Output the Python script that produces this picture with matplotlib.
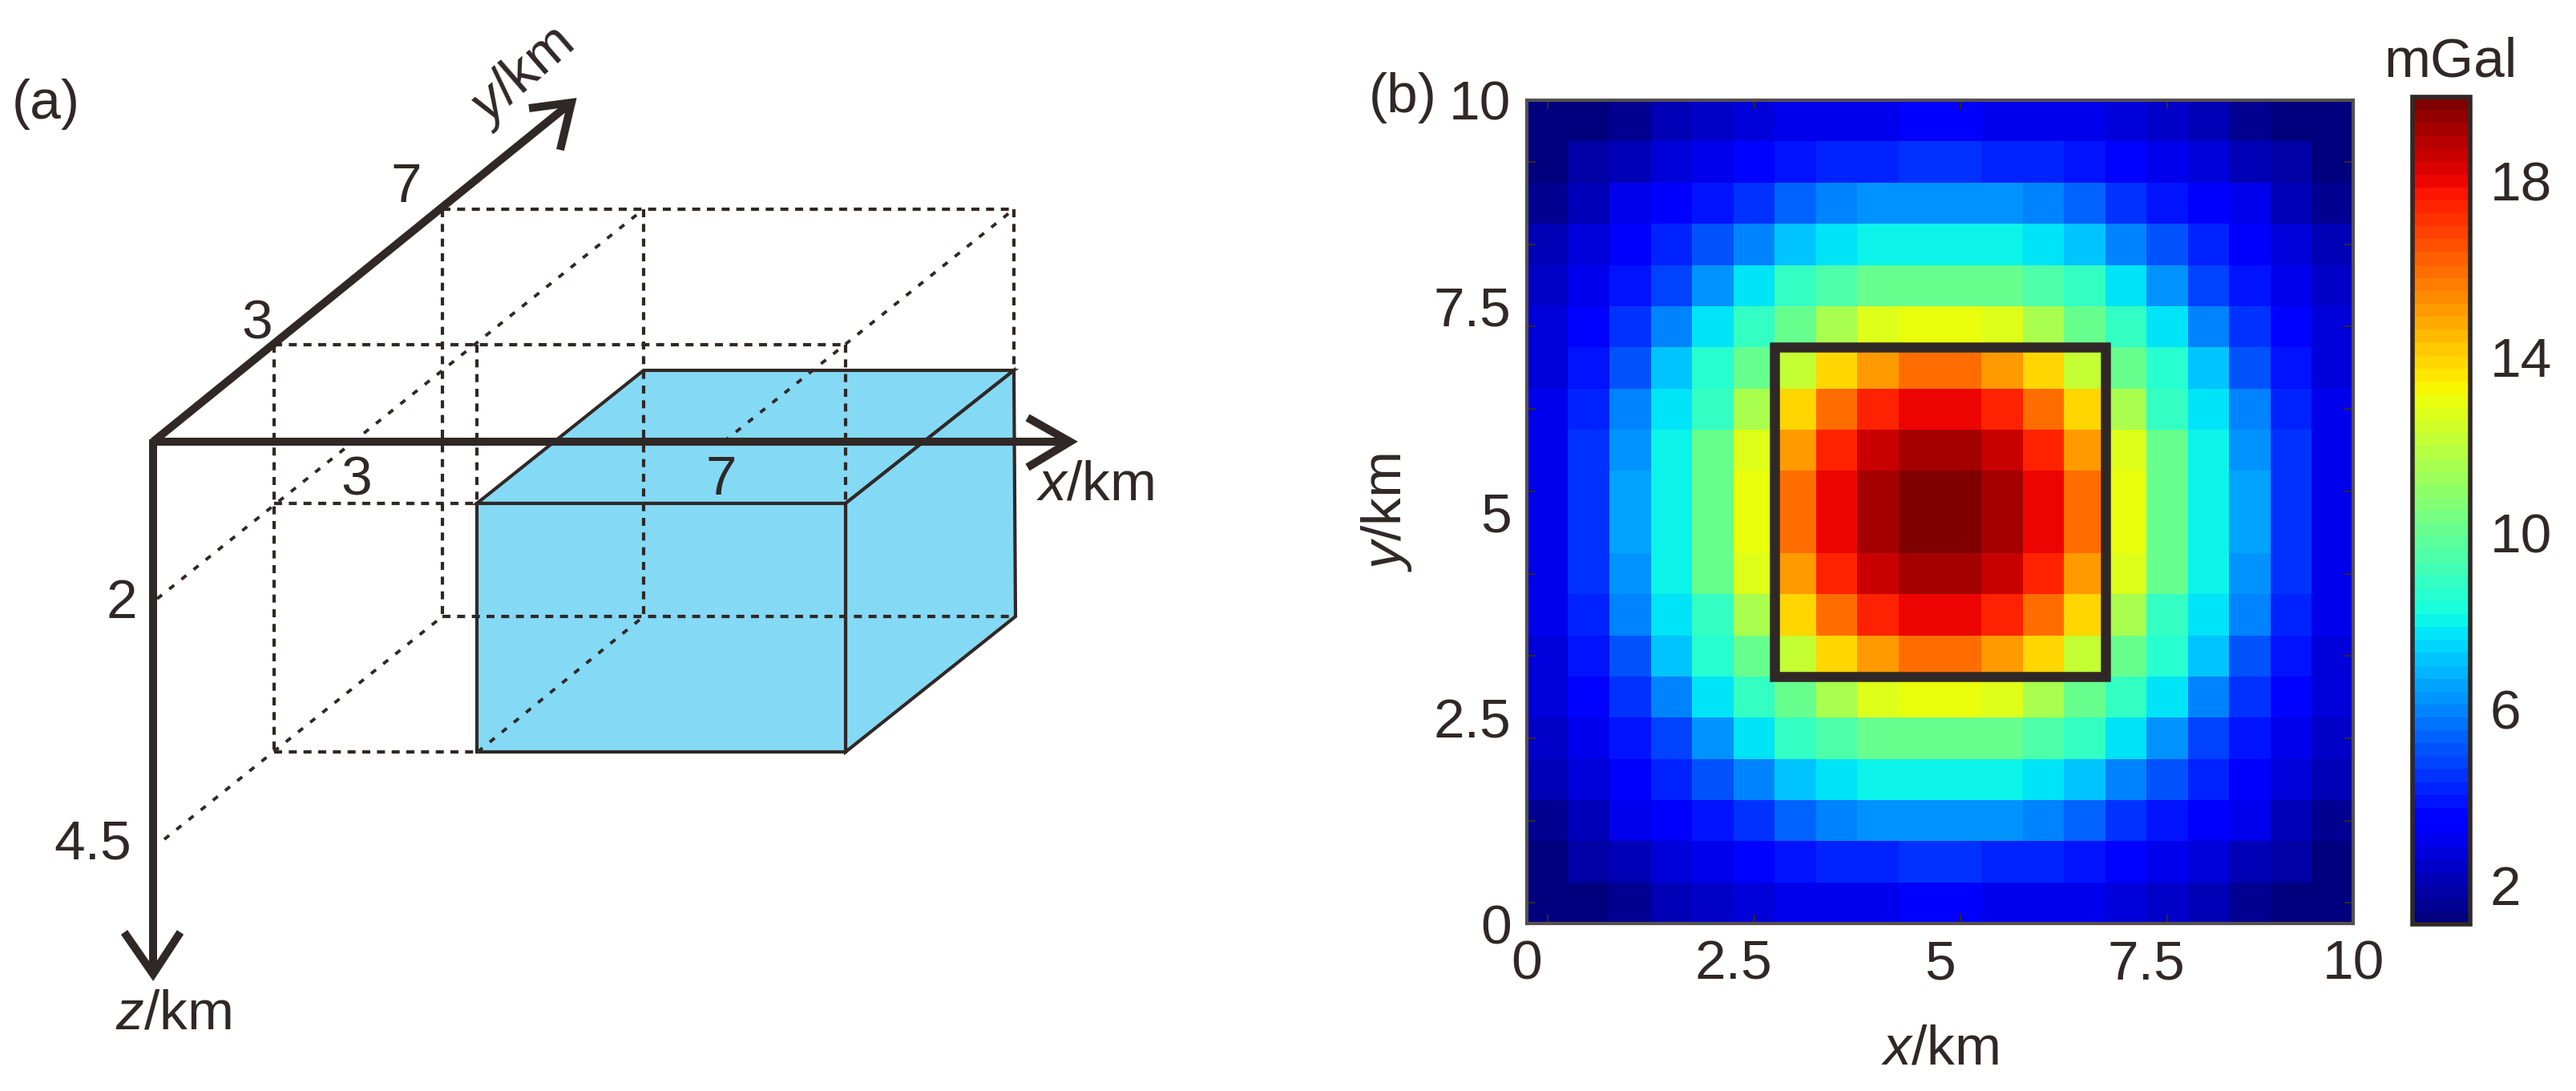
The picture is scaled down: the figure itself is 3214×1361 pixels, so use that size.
import matplotlib
matplotlib.use("Agg")
import matplotlib.pyplot as plt
import numpy as np
from matplotlib.patches import Polygon, Rectangle

plt.rcParams['font.family'] = ['Liberation Sans', 'DejaVu Sans']
plt.rcParams['mathtext.fontset'] = 'custom'
plt.rcParams['mathtext.it'] = 'Liberation Sans:italic'
plt.rcParams['mathtext.rm'] = 'Liberation Sans'

# ---------------- data: gravity anomaly grid (mGal), rows from y=0 upward ----------------
r0 = [1.0, 1.3, 1.6, 2.0, 2.3, 2.7, 2.9, 3.0, 3.1, 3.2, 3.2, 3.1, 3.0, 2.9, 2.7, 2.3, 2.0, 1.6, 1.3, 1.0]
r1 = [1.3, 1.7, 2.2, 2.7, 3.1, 3.5, 3.8, 4.1, 4.3, 4.4, 4.4, 4.3, 4.1, 3.8, 3.5, 3.1, 2.7, 2.2, 1.7, 1.3]
r2 = [1.6, 2.2, 2.9, 3.4, 4.0, 4.6, 5.3, 5.8, 6.1, 6.2, 6.2, 6.1, 5.8, 5.3, 4.6, 4.0, 3.4, 2.9, 2.2, 1.6]
r3 = [2.0, 2.6, 3.3, 4.2, 5.0, 6.0, 7.0, 7.8, 8.0, 8.1, 8.1, 8.0, 7.8, 7.0, 6.0, 5.0, 4.2, 3.3, 2.6, 2.0]
r4 = [2.4, 3.0, 3.8, 4.8, 6.2, 7.6, 8.8, 9.4, 10.0, 10.2, 10.2, 10.0, 9.4, 8.8, 7.6, 6.2, 4.8, 3.8, 3.0, 2.4]
r5 = [2.7, 3.5, 4.5, 6.0, 7.8, 8.8, 10.0, 11.5, 12.8, 13.0, 13.0, 12.8, 11.5, 10.0, 8.8, 7.8, 6.0, 4.5, 3.5, 2.7]
r6 = [2.8, 3.8, 5.0, 7.0, 8.5, 10.0, 12.0, 13.8, 15.0, 16.0, 16.0, 15.0, 13.8, 12.0, 10.0, 8.5, 7.0, 5.0, 3.8, 2.8]
r7 = [3.0, 4.2, 5.8, 7.8, 9.0, 11.5, 13.8, 16.0, 17.5, 18.0, 18.0, 17.5, 16.0, 13.8, 11.5, 9.0, 7.8, 5.8, 4.2, 3.0]
r8 = [3.1, 4.4, 6.3, 8.0, 10.0, 12.8, 15.0, 17.5, 18.5, 19.3, 19.3, 18.5, 17.5, 15.0, 12.8, 10.0, 8.0, 6.3, 4.4, 3.1]
r9 = [3.1, 4.5, 6.4, 8.0, 10.0, 13.0, 16.0, 18.0, 19.3, 20.0, 20.0, 19.3, 18.0, 16.0, 13.0, 10.0, 8.0, 6.4, 4.5, 3.1]
r10 = [3.1, 4.5, 6.4, 8.0, 10.0, 13.0, 16.0, 18.0, 19.3, 20.0, 20.0, 19.3, 18.0, 16.0, 13.0, 10.0, 8.0, 6.4, 4.5, 3.1]
r11 = [3.1, 4.4, 6.3, 8.0, 10.0, 12.8, 15.0, 17.5, 18.5, 19.3, 19.3, 18.5, 17.5, 15.0, 12.8, 10.0, 8.0, 6.3, 4.4, 3.1]
r12 = [3.0, 4.2, 5.8, 7.8, 9.0, 11.5, 13.8, 16.0, 17.5, 18.0, 18.0, 17.5, 16.0, 13.8, 11.5, 9.0, 7.8, 5.8, 4.2, 3.0]
r13 = [2.8, 3.8, 5.0, 7.0, 8.5, 10.0, 12.0, 13.8, 15.0, 16.0, 16.0, 15.0, 13.8, 12.0, 10.0, 8.5, 7.0, 5.0, 3.8, 2.8]
r14 = [2.7, 3.5, 4.5, 6.0, 7.8, 8.8, 10.0, 11.5, 12.8, 13.0, 13.0, 12.8, 11.5, 10.0, 8.8, 7.8, 6.0, 4.5, 3.5, 2.7]
r15 = [2.4, 3.0, 3.8, 4.8, 6.2, 7.6, 8.8, 9.4, 10.0, 10.2, 10.2, 10.0, 9.4, 8.8, 7.6, 6.2, 4.8, 3.8, 3.0, 2.4]
r16 = [2.0, 2.6, 3.3, 4.2, 5.0, 6.0, 7.0, 7.8, 8.0, 8.1, 8.1, 8.0, 7.8, 7.0, 6.0, 5.0, 4.2, 3.3, 2.6, 2.0]
r17 = [1.6, 2.2, 2.9, 3.4, 4.0, 4.6, 5.3, 5.8, 6.1, 6.2, 6.2, 6.1, 5.8, 5.3, 4.6, 4.0, 3.4, 2.9, 2.2, 1.6]
r18 = [1.3, 1.7, 2.2, 2.7, 3.1, 3.5, 3.8, 4.1, 4.3, 4.4, 4.4, 4.3, 4.1, 3.8, 3.5, 3.1, 2.7, 2.2, 1.7, 1.3]
r19 = [1.0, 1.3, 1.6, 2.0, 2.3, 2.7, 2.9, 3.0, 3.1, 3.2, 3.2, 3.1, 3.0, 2.9, 2.7, 2.3, 2.0, 1.6, 1.3, 1.0]
grid_rows = [r0, r1, r2, r3, r4, r5, r6, r7, r8, r9, r10, r11, r12, r13, r14, r15, r16, r17, r18, r19]

prism_x = [3, 7]
prism_y = [3, 7]
tick_vals = [0, 2.5, 5, 7.5, 10]
tick_labels = ['0', '2.5', '5', '7.5', '10']
cbar_ticks = [2, 6, 10, 14, 18]

# ---------------- figure ----------------
W, H = 3214, 1361
fig = plt.figure(figsize=(W / 100, H / 100), dpi=100)
DARK = '#302826'
FS = 50

bg = fig.add_axes([0, 0, 1, 1])
bg.set_xlim(0, W)
bg.set_ylim(H, 0)
bg.axis('off')

# --- panel (a): schematic (screen coordinates of the oblique sketch) ---
front = [(595, 628), (1055, 628), (1055, 938), (595, 938)]
top = [(595, 628), (803, 462), (1265, 462), (1055, 628)]
side = [(1055, 628), (1265, 462), (1267, 769), (1055, 938)]
for poly in (top, side, front):
    bg.add_patch(Polygon(poly, closed=True, facecolor='#84D9F5', edgecolor=DARK, lw=3.0, zorder=2))

dash = dict(color=DARK, lw=3.0, ls=(0, (2.4, 2.0)), zorder=3)
dash_lines = [
    [(552, 261), (1265, 261)], [(552, 261), (552, 769)], [(803, 261), (803, 769)],
    [(1265, 261), (1265, 462)], [(552, 769), (1267, 769)],
    [(342, 430), (1055, 430)], [(342, 430), (342, 938)], [(595, 430), (595, 628)],
    [(1055, 430), (1055, 628)], [(342, 628), (595, 628)], [(342, 938), (595, 938)],
]
for seg in dash_lines:
    (x0, y0), (x1, y1) = seg
    bg.plot([x0, x1], [y0, y1], **dash)
dot = dict(color=DARK, lw=2.8, ls=(0, (2.0, 3.0)), zorder=3)
diag_lines = [
    [(196, 747), (803, 261)], [(903, 551), (1265, 261)],
    [(596, 938), (803, 769)], [(205, 1047), (552, 769)],
]
for seg in diag_lines:
    (x0, y0), (x1, y1) = seg
    bg.plot([x0, x1], [y0, y1], **dot)

ax_kw = dict(color=DARK, lw=7.2, solid_capstyle='butt', solid_joinstyle='miter', zorder=4)
O = (191, 551)
bg.plot([O[0], 1330], [O[1], O[1]], **ax_kw)
bg.plot([O[0], 709], [O[1], 131], **ax_kw)
bg.plot([O[0], O[0]], [O[1] - 3, 1210], **ax_kw)
bg.plot([1282, 1335, 1282], [521, 551, 583], **ax_kw)
bg.plot([660, 713, 699], [135, 128, 187], **ax_kw)
bg.plot([155, 191, 225], [1163, 1215, 1163], **ax_kw)

tk = dict(fontsize=FS, color=DARK, ha='center', va='center', zorder=5)
bg.text(57, 130, '(a)', **tk)
bg.text(651, 95, r'$\mathit{y}$/km', rotation=41, **tk)
bg.text(507, 234, '7', **tk)
bg.text(321, 404, '3', **tk)
bg.text(445, 599, '3', **tk)
bg.text(900, 599, '7', **tk)
bg.text(1366, 605, r'$\mathit{x}$/km', **tk)
bg.text(152, 753, '2', **tk)
bg.text(116, 1054, '4.5', **tk)
bg.text(216, 1265, r'$\mathit{z}$/km', **tk)

# --- panel (b): heat map ---
def fr(x0, y0, x1, y1):
    return [x0 / W, 1 - y1 / H, (x1 - x0) / W, (y1 - y0) / H]

ax = fig.add_axes(fr(1905, 125, 2936, 1152))
data = np.array(grid_rows)
cmap = plt.get_cmap('jet', 64)
im = ax.imshow(data, extent=(0, 10, 0, 10), origin='lower', cmap=cmap,
               vmin=1.1, vmax=19.9, interpolation='nearest', aspect='auto')
ax.add_patch(Rectangle((prism_x[0], prism_y[0]), prism_x[1] - prism_x[0], prism_y[1] - prism_y[0],
                       fill=False, edgecolor=DARK, lw=9, joinstyle='miter'))
ax.set_xlim(0, 10)
ax.set_ylim(0, 10)
ax.set_xticks(tick_vals)
ax.set_xticklabels(tick_labels)
ax.set_yticks(tick_vals)
ax.set_yticklabels(tick_labels)
ax.tick_params(length=0, labelsize=FS, colors=DARK, pad=14)
ax.set_xticks(np.arange(0.25, 10, 2.5), minor=True)
ax.set_yticks(np.arange(0.25, 10, 1.0), minor=True)
ax.tick_params(which='minor', direction='in', length=8, width=1.5, color=DARK,
               top=True, right=True, bottom=True, left=True)
for s in ax.spines.values():
    s.set_color('#555050')
    s.set_linewidth(3)
ax.set_xlabel(r'$\mathit{x}$/km', fontsize=FS, color=DARK, labelpad=30)
ax.set_ylabel(r'$\mathit{y}$/km', fontsize=FS, color=DARK, labelpad=18)
fig.text(1750 / W, 1 - 122 / H, '(b)', fontsize=FS, color=DARK, ha='center', va='center')

cax = fig.add_axes(fr(3010, 121, 3082, 1153))
cb = fig.colorbar(im, cax=cax, ticks=cbar_ticks)
cb.outline.set_edgecolor(DARK)
cb.outline.set_linewidth(4)
cax.tick_params(length=0, labelsize=FS, colors=DARK, pad=18)
fig.text(3057 / W, 1 - 78 / H, 'mGal', fontsize=FS, color=DARK, ha='center', va='center')

fig.savefig('out.png', dpi=100)
